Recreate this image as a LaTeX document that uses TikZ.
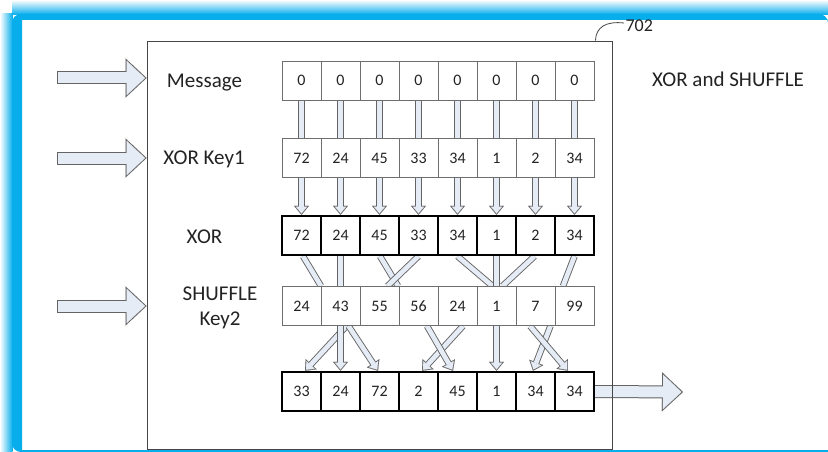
\documentclass[tikz,border=0pt]{standalone}
\usepackage{fontspec}
\setmainfont{Carlito}
\usetikzlibrary{arrows.meta,backgrounds}
\definecolor{framecyan}{RGB}{8,174,236}
\definecolor{barfill}{RGB}{229,236,246}
\definecolor{bargray}{RGB}{100,100,100}
\definecolor{cellgray}{RGB}{110,110,110}
\definecolor{boxgray}{RGB}{70,70,70}
\definecolor{textgray}{RGB}{35,35,35}

\begin{document}
\begin{tikzpicture}[x=1pt, y=-1pt,
    cell/.style={draw=cellgray, line width=0.9pt, fill=white, minimum width=39pt,
      minimum height=39pt, inner sep=0pt, font=\fontsize{16}{18}\selectfont, text=textgray},
    boldcell/.style={cell, draw=black, line width=2.4pt},
    lbl/.style={font=\fontsize{21}{25}\selectfont, text=textgray, align=center},
    barout/.style={line width=6.5pt, draw=bargray},
    barin/.style={line width=4.7pt, draw=barfill},
    tipout/.style={barout, -{Triangle[length=9pt, width=15pt, line width=0.1pt]}},
    tipin/.style={barin, shorten >=1.4pt,
      -{Triangle[length=6.7pt, width=11.2pt, line width=0.1pt]}},
    bigout/.style={line width=13pt, draw=bargray,
      -{Triangle[length=21pt, width=39pt, line width=0.1pt]}},
    bigin/.style={line width=11pt, draw=barfill, shorten >=1.5pt, shorten <=1pt,
      -{Triangle[length=18.5pt, width=34.4pt, line width=0.1pt]}},
  ]
  \useasboundingbox (0,0) rectangle (828,452);

  % screen frame
  \begin{scope}[on background layer]
    \fill[white] (0,0) rectangle (828,452);
    \shade[top color=white, bottom color=framecyan] (12,0) rectangle (828,14.5);
    \shade[left color=white, right color=framecyan] (0,14) rectangle (12.5,452);
    \fill[framecyan] (22,452) [rounded corners=9pt] -- (12,452) |- (828,14)
      [sharp corners] -- (828,20) -- (22,20) -- cycle;
    \fill[framecyan] (22,449.5) rectangle (828,452);
  \end{scope}

  % outer block
  \node[draw=boxgray, line width=0.9pt, minimum width=465pt, minimum height=408pt,
    inner sep=0pt] (frame) at (379.5,245) {};
  \node[font=\fontsize{18}{20}\selectfont, text=textgray, anchor=west] (ref) at (622,26) {702};
  \draw[line width=0.8pt, boxgray] ([xshift=-17pt]frame.north east)
    .. controls (596,27) and (606,21) .. ([shift={(2pt,3pt)}]ref.west);

  % row labels
  \node[lbl, anchor=base] (lmsg)  at (204.5,88) {Message};
  \node[lbl, anchor=base] (lkeya) at (204,164) {XOR Key1};
  \node[lbl, anchor=base] (lxor)  at (204.5,243) {XOR};
  \node[lbl] (lkeyb) at (220,307.5) {SHUFFLE\\Key2};
  \node[lbl, anchor=base] (title) at (728,87) {XOR and SHUFFLE};

  % cell rows
  \foreach \v [count=\i] in {0,0,0,0,0,0,0,0}
    \node[cell] (msg\i) at (262.5+39*\i,80.5) {\v};
  \foreach \v [count=\i] in {72,24,45,33,34,1,2,34}
    \node[cell] (keya\i) at (262.5+39*\i,158) {\v};
  \foreach \v [count=\i] in {72,24,45,33,34,1,2,34}
    \node[boldcell] (xor\i) at (262.5+39*\i,235.5) {\v};
  \foreach \v [count=\i] in {24,43,55,56,24,1,7,99}
    \node[cell] (keyb\i) at (262.5+39*\i,306) {\v};
  \foreach \v [count=\i] in {33,24,72,2,45,1,34,34}
    \node[boldcell] (out\i) at (262.5+39*\i,391.5) {\v};

  % inputs and output
  \coordinate (in1) at (57,78);
  \coordinate (in2) at (57,158);
  \coordinate (in3) at (57,306);
  \coordinate (outtip) at (683,392);

  \begin{scope}[on background layer]
    \foreach \i in {1,2,3} {
      \draw[bigout] (in\i) -- (in\i -| frame.west);
      \draw[bigin] (in\i) -- (in\i -| frame.west);
    }
    \draw[bigout] (out8.east) -- (outtip);
    \draw[bigin, shorten <=0pt] (out8.east) -- (outtip);

    % message -> key1 -> xor
    \foreach \i in {1,...,8} {
      \draw[barout] (msg\i.south) -- (keya\i.north);
      \draw[barin] (msg\i.south) -- (keya\i.north);
      \draw[tipout] (keya\i.south) -- (xor\i.north);
      \draw[tipin] (keya\i.south) -- (xor\i.north);
    }
    % xor -> shuffle key
    \foreach \a/\sa/\b/\sb in {1/1.5/1/19.5, 2/0/2/0, 3/0.5/3/18.5, 4/0/3/8,
        5/0/6/-4, 6/0/6/0, 7/-1/6/6, 8/0/8/-11.5} {
      \draw[barout] ([xshift=\sa]xor\a.south) -- ([xshift=\sb]keyb\b.north);
      \draw[barin] ([xshift=\sa]xor\a.south) -- ([xshift=\sb]keyb\b.north);
    }
    % shuffle key -> output
    \foreach \a/\sa/\b/\sb in {2/6/1/3.5, 2/0/2/0, 2/8/3/-1.5, 5/5.5/4/3.5,
        4/8.5/5/-4.5, 6/0/6/0, 7/15/7/-2.5, 7/-5.5/8/-6.5} {
      \draw[tipout] ([xshift=\sa]keyb\a.south) -- ([xshift=\sb]out\b.north);
      \draw[tipin] ([xshift=\sa]keyb\a.south) -- ([xshift=\sb]out\b.north);
    }
  \end{scope}
\end{tikzpicture}
\end{document}
